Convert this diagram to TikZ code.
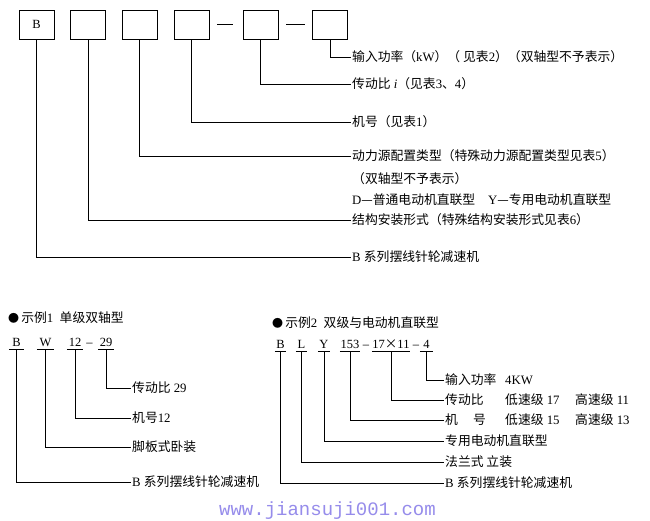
\documentclass[tikz,border=0pt]{standalone}
\usepackage{fontspec}
\setmainfont{Liberation Serif}
\newfontfamily\cjk{Noto Sans CJK SC}
\newfontfamily\wmfont{Liberation Mono}
\newcommand\z[1]{{\cjk #1}}
\newcommand\blt{{\cjk\fontsize{11}{12}\selectfont ●}}
\definecolor{wmcol}{RGB}{150,140,235}
\begin{document}
\begin{tikzpicture}[x=1pt,y=-1pt,
  ln/.style={line width=0.8pt},
  box/.style={draw, line width=0.8pt, minimum width=35pt, minimum height=29pt, inner sep=0pt, font=\fontsize{12.5}{14}\selectfont},
  lbl/.style={anchor=west, inner xsep=1pt, inner ysep=0pt, font=\fontsize{12.8}{15}\selectfont},
  code/.style={anchor=base, inner xsep=0pt, inner ysep=0pt, text depth=2.5pt, font=\fontsize{12.5}{15}\selectfont},
  dashtxt/.style={anchor=base, inner sep=0pt, font=\fontsize{12.5}{15}\selectfont}
]
\path[fill=white] (0,0) rectangle (650,521);
\useasboundingbox (0,0) rectangle (650,521);

% ---------- top scheme ----------
\node[box] (b1) at (36.5,24.5) {B};
\node[box] (b2) at (88,24.5) {};
\node[box] (b3) at (139.5,24.5) {};
\node[box] (b4) at (191.5,24.5) {};
\node[box] (b5) at (260.5,24.5) {};
\node[box] (b6) at (330,24.5) {};
\draw[ln] ([xshift=8pt]b4.east) -- ([xshift=-10pt]b5.west);
\draw[ln] ([xshift=8pt]b5.east) -- ([xshift=-7pt]b6.west);

\node[lbl] (t1) at (351,57) {\z{输入功率（}kW\z{）（ 见表}2\z{）（双轴型不予表示）}};
\node[lbl] (t2) at (351,84) {\z{传动比} \textit{i}\z{（见表}3\z{、}4\z{）}};
\node[lbl] (t3) at (351,122) {\z{机号（见表}1\z{）}};
\node[lbl] (t4) at (351,156) {\z{动力源配置类型（特殊动力源配置类型见表}5\z{）}};
\node[lbl] (t5) at (351,179) {\z{（双轴型不予表示）}};
\node[lbl] (t6) at (351,200) {D\z{—普通电动机直联型}\quad Y\z{—专用电动机直联型}};
\node[lbl] (t7) at (351,220) {\z{结构安装形式（特殊结构安装形式见表}6\z{）}};
\node[lbl] (t8) at (351,257) {B \z{系列摆线针轮减速机}};

\draw[ln] (b6.south) |- (t1.west);
\draw[ln] (b5.south) |- (t2.west);
\draw[ln] (b4.south) |- (t3.west);
\draw[ln] (b3.south) |- (t4.west);
\draw[ln] (b2.south) |- (t7.west);
\draw[ln] (b1.south) |- (t8.west);

% ---------- example 1 ----------
\node[lbl] (e1t) at (7,318) {\blt\,\z{示例}1\enspace\z{单级双轴型}};
\node[code, minimum width=15pt] (e1b) at (16.5,346.5) {B};
\node[code, minimum width=17pt] (e1w) at (45.5,346.5) {W};
\node[code, minimum width=16pt] (e1n) at (75,346.5) {12};
\node[dashtxt] (e1d) at (89.5,346.5) {–};
\node[code, minimum width=16pt] (e1r) at (106,346.5) {29};
\foreach \n in {e1b,e1w,e1n,e1r} \draw[ln] (\n.south west) -- (\n.south east);

\node[lbl] (e1l1) at (131,388) {\z{传动比} 29};
\node[lbl] (e1l2) at (131,418) {\z{机号}12};
\node[lbl] (e1l3) at (131,447) {\z{脚板式卧装}};
\node[lbl] (e1l4) at (131,482) {B \z{系列摆线针轮减速机}};
\draw[ln] (e1r.south) |- (e1l1.west);
\draw[ln] (e1n.south) |- (e1l2.west);
\draw[ln] (e1w.south) |- (e1l3.west);
\draw[ln] (e1b.south) |- (e1l4.west);

% ---------- example 2 ----------
\node[lbl] (e2t) at (271,323) {\blt\,\z{示例}2\enspace\z{双级与电动机直联型}};
\node[code, minimum width=11pt] (e2b) at (280.5,348.5) {B};
\node[code, minimum width=11pt] (e2l) at (301.5,348.5) {L};
\node[code, minimum width=12pt] (e2y) at (324,348.5) {Y};
\node[code, minimum width=20pt] (e2n) at (350,348.5) {153};
\node[dashtxt] (e2d1) at (366,348.5) {–};
\node[code, minimum width=38pt] (e2r) at (391,348.5) {17\z{×}11};
\node[dashtxt] (e2d2) at (416,348.5) {–};
\node[code, minimum width=13pt] (e2p) at (426.5,348.5) {4};
\foreach \n in {e2b,e2l,e2y,e2n,e2r,e2p} \draw[ln] (\n.south west) -- (\n.south east);

\node[lbl] (e2l1) at (444,380) {\z{输入功率}};
\node[lbl] (e2l1a) at (504,380) {4KW};
\node[lbl] (e2l2) at (444,400) {\z{传动比}};
\node[lbl] (e2l2a) at (504,400) {\z{低速级} 17};
\node[lbl] (e2l2b) at (574,400) {\z{高速级} 11};
\node[lbl] (e2l3) at (444,420) {\z{机}};
\node[lbl] (e2l3h) at (472,420) {\z{号}};
\node[lbl] (e2l3a) at (504,420) {\z{低速级} 15};
\node[lbl] (e2l3b) at (574,420) {\z{高速级} 13};
\node[lbl] (e2l4) at (444,441) {\z{专用电动机直联型}};
\node[lbl] (e2l5) at (444,462) {\z{法兰式 立装}};
\node[lbl] (e2l6) at (444,483) {B \z{系列摆线针轮减速机}};
\draw[ln] (e2p.south) |- (e2l1.west);
\draw[ln] (e2r.south) |- (e2l2.west);
\draw[ln] (e2n.south) |- (e2l3.west);
\draw[ln] (e2y.south) |- (e2l4.west);
\draw[ln] (e2l.south) |- (e2l5.west);
\draw[ln] (e2b.south) |- (e2l6.west);

% ---------- watermark ----------
\node[text=wmcol, inner sep=0pt, font=\wmfont\fontsize{19}{20}\selectfont] (wm) at (327.5,511) {www.jiansuji001.com};
\end{tikzpicture}
\end{document}
